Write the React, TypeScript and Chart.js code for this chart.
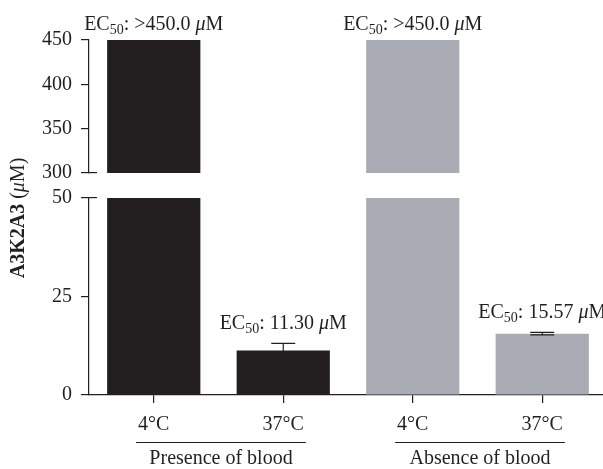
import React, { useEffect, useRef } from 'react';
import { Chart, registerables } from 'chart.js';

Chart.register(...registerables);

// ---- data ----
const categories = ['4°C', '37°C', '4°C', '37°C'];
const groups = ['Presence of blood', 'Absence of blood'];
const groupMembers = [[0, 1], [2, 3]];
// 4°C bars are >450 µM: drawn to the top of the broken axis
const ec50Values = [450, 11.3, 450, 15.57];
const ec50Errors = [0, 1.8, 0, 0.3];
const ec50Labels = ['>450.0', '11.30', '>450.0', '15.57'];
const barColors = ['#231f20', '#231f20', '#a9acb5', '#a9acb5'];
const topTicks = [300, 350, 400, 450];
const bottomTicks = [0, 25, 50];

const TOP_MIN = 300;
const TOP_MAX = 450;
const BOT_MIN = 0;
const BOT_MAX = 50;

const FONT = 'Liberation Serif';
const INK = '#231f20';
const FS = 20;
const LW = 1.2;

type Seg = { text: string; style?: 'normal' | 'italic' | 'bold'; sub?: boolean };

function segFont(s: Seg, size: number) {
  const sz = s.sub ? Math.round(size * 0.72) : size;
  return `${s.style === 'italic' ? 'italic ' : ''}${s.style === 'bold' ? 'bold ' : ''}${sz}px "${FONT}"`;
}

function richWidth(ctx: CanvasRenderingContext2D, segs: Seg[], size: number) {
  let w = 0;
  for (const s of segs) {
    ctx.font = segFont(s, size);
    w += ctx.measureText(s.text).width;
  }
  return w;
}

function drawRich(ctx: CanvasRenderingContext2D, segs: Seg[], cx: number, cy: number, size: number) {
  const total = richWidth(ctx, segs, size);
  let x = cx - total / 2;
  ctx.textAlign = 'left';
  ctx.textBaseline = 'middle';
  for (const s of segs) {
    ctx.font = segFont(s, size);
    ctx.fillText(s.text, x, cy + (s.sub ? size * 0.28 : 0));
    x += ctx.measureText(s.text).width;
  }
}

const align = (p: number, w: number) => Math.round(p - w / 2) + w / 2;

const ecSegs = (v: string): Seg[] => [
  { text: 'EC' },
  { text: '50', sub: true },
  { text: ': ' + v + ' ' },
  { text: 'μ', style: 'italic' },
  { text: 'M' },
];

const overlayPlugin = {
  id: 'overlay',
  afterDatasetsDraw(chart: any) {
    const ctx: CanvasRenderingContext2D = chart.ctx;
    const x = chart.scales.x;
    const yTop = chart.scales.yTop;
    const yBot = chart.scales.yBot;
    ctx.save();
    ctx.fillStyle = INK;
    ctx.strokeStyle = INK;
    ctx.lineWidth = LW;
    // error bars
    ec50Values.forEach((v, i) => {
      const e = ec50Errors[i];
      if (!e || v > BOT_MAX) return;
      const cx = x.getPixelForValue(i);
      const yHi = yBot.getPixelForValue(v + e);
      const yLo = yBot.getPixelForValue(v - e);
      const half = 12;
      ctx.beginPath();
      ctx.moveTo(cx, yLo);
      ctx.lineTo(cx, yHi);
      ctx.moveTo(cx - half, yHi);
      ctx.lineTo(cx + half, yHi);
      ctx.moveTo(cx - half, yLo);
      ctx.lineTo(cx + half, yLo);
      ctx.stroke();
    });
    // EC50 labels
    ec50Values.forEach((v, i) => {
      const cx = x.getPixelForValue(i);
      let cy: number;
      if (v >= TOP_MAX) cy = yTop.getPixelForValue(TOP_MAX) - 15;
      else cy = yBot.getPixelForValue(v + ec50Errors[i]) - 20;
      drawRich(ctx, ecSegs(ec50Labels[i]), cx, cy, FS);
    });
    ctx.restore();
  },
  afterDraw(chart: any) {
    const ctx: CanvasRenderingContext2D = chart.ctx;
    const x = chart.scales.x;
    const yTop = chart.scales.yTop;
    const yBot = chart.scales.yBot;
    ctx.save();
    ctx.strokeStyle = INK;
    ctx.fillStyle = INK;
    ctx.lineWidth = LW;
    // axis break marks (extend the tick to the right of the axis)
    const ax = yBot.right;
    [yTop.getPixelForValue(TOP_MIN), yBot.getPixelForValue(BOT_MAX)].forEach((py) => {
      const p = align(py, LW);
      ctx.beginPath();
      ctx.moveTo(ax - 1, p);
      ctx.lineTo(ax + 8, p);
      ctx.stroke();
    });
    // group underlines and labels
    ctx.font = `${FS}px "${FONT}"`;
    groupMembers.forEach((members, g) => {
      const a = members[0];
      const b = members[members.length - 1];
      const wa = ctx.measureText(categories[a]).width;
      const wb = ctx.measureText(categories[b]).width;
      const left = x.getPixelForValue(a) - wa / 2 - 2;
      const right = x.getPixelForValue(b) + wb / 2 + 2;
      const ly = 442.5;
      ctx.beginPath();
      ctx.moveTo(left, ly);
      ctx.lineTo(right, ly);
      ctx.stroke();
      ctx.textAlign = 'center';
      ctx.textBaseline = 'middle';
      ctx.fillText(groups[g], (left + right) / 2, 459);
    });
    // y-axis title
    ctx.translate(19, 218);
    ctx.rotate(-Math.PI / 2);
    drawRich(
      ctx,
      [
        { text: 'A3K2A3', style: 'bold' },
        { text: ' (' },
        { text: 'μ', style: 'italic' },
        { text: 'M)' },
      ],
      0,
      0,
      FS
    );
    ctx.restore();
  },
};

export default function App() {
  const ref = useRef<HTMLCanvasElement>(null);
  useEffect(() => {
    const canvas = ref.current!;
    const tickFont = { family: FONT, size: FS };
    const yCommon = (min: number, max: number, ticks: number[], weight: number) => ({
      type: 'linear' as const,
      position: 'left' as const,
      stack: 'y',
      stackWeight: weight,
      min,
      max,
      afterBuildTicks: (s: any) => {
        s.ticks = ticks.map((v) => ({ value: v }));
      },
      afterFit: (s: any) => {
        s.width = 89;
      },
      border: { display: true, color: INK, width: LW },
      grid: { display: true, drawOnChartArea: false, drawTicks: true, tickLength: 8, color: INK, lineWidth: LW },
      ticks: { color: INK, font: tickFont, padding: 9, autoSkip: false },
    });
    const chart = new Chart(canvas, {
      type: 'bar',
      data: {
        labels: categories,
        datasets: [
          {
            label: 'top',
            yAxisID: 'yTop',
            data: ec50Values.map((v) => (v > TOP_MIN ? [TOP_MIN, Math.min(v, TOP_MAX)] : null)) as any,
            backgroundColor: barColors,
            grouped: false,
            barPercentage: 0.72,
            categoryPercentage: 1,
          },
          {
            label: 'bottom',
            yAxisID: 'yBot',
            data: ec50Values.map((v) => Math.min(v, BOT_MAX)),
            backgroundColor: barColors,
            grouped: false,
            barPercentage: 0.72,
            categoryPercentage: 1,
          },
        ],
      },
      options: {
        responsive: false,
        animation: false,
        layout: { padding: { top: 40, left: 0, right: 0, bottom: 0 } },
        plugins: { legend: { display: false }, tooltip: { enabled: false } },
        scales: {
          x: {
            type: 'category',
            offset: true,
            afterFit: (s: any) => {
              s.height = 74;
            },
            border: { display: true, color: INK, width: LW },
            grid: { display: true, offset: false, drawOnChartArea: false, drawTicks: true, tickLength: 8, color: INK, lineWidth: LW },
            ticks: { color: INK, font: tickFont, padding: 10, autoSkip: false, maxRotation: 0 },
          },
          yBot: yCommon(BOT_MIN, BOT_MAX, bottomTicks, 197) as any,
          yGap: { type: 'linear', position: 'left', stack: 'y', stackWeight: 25, display: false, min: 0, max: 1 } as any,
          yTop: yCommon(TOP_MIN, TOP_MAX, topTicks, 133) as any,
        },
      },
      plugins: [overlayPlugin],
    });
    return () => chart.destroy();
  }, []);
  return (
    <div style={{ position: 'fixed', left: 0, top: 0, width: 603, height: 469, overflow: 'hidden', background: '#fff' }}>
      <canvas ref={ref} width={607} height={469} style={{ display: 'block' }} />
    </div>
  );
}
